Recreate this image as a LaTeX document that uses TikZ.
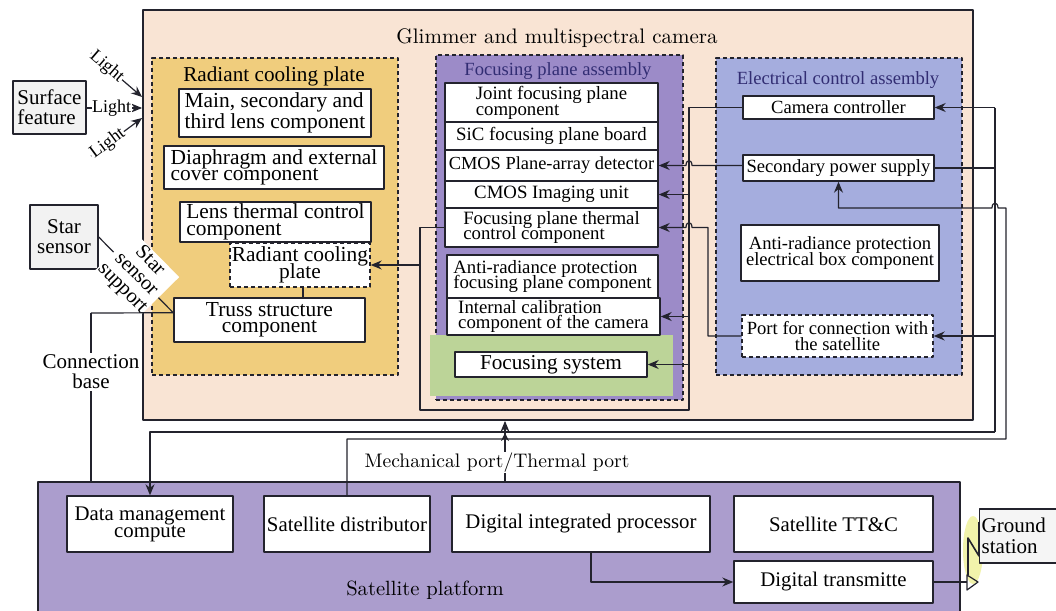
\documentclass[tikz,border=0pt]{standalone}
\usepackage{fontspec}
\newfontfamily\tms{Liberation Serif}
\usetikzlibrary{fit,calc,arrows.meta}
\definecolor{lncol}{RGB}{35,35,45}
\definecolor{campeach}{RGB}{249,228,212}
\definecolor{rcpyellow}{RGB}{240,205,125}
\definecolor{fpapurple}{RGB}{156,139,200}
\definecolor{fsgreen}{RGB}{188,212,152}
\definecolor{ecablue}{RGB}{165,173,222}
\definecolor{platpurple}{RGB}{171,157,205}
\definecolor{ttlcol}{RGB}{50,45,115}
\definecolor{glowcol}{RGB}{238,240,150}
\newcommand\tightls{\lineskiplimit=-30pt\relax}
\newcommand\fsCam{\fontsize{10.5}{12}\selectfont}
\newcommand\fsRadT{\tms\fontsize{10.6}{12}\selectfont}
\newcommand\fsRad{\tms\fontsize{10.7}{8.2}\selectfont\tightls}
\newcommand\fsRadM{\tms\fontsize{10.7}{10.2}\selectfont\tightls}
\newcommand\fsFocT{\tms\fontsize{9.3}{11}\selectfont}
\newcommand\fsFoc{\tms\fontsize{9.4}{7.9}\selectfont\tightls}
\newcommand\fsEle{\tms\fontsize{9.3}{7.7}\selectfont\tightls}
\newcommand\fsBot{\tms\fontsize{10.4}{8.6}\selectfont\tightls}
\newcommand\fsLeft{\tms\fontsize{10.5}{10}\selectfont\tightls}
\newcommand\fsLight{\tms\fontsize{9}{10}\selectfont}
\newcommand\fsLM{\fontsize{9.8}{11}\selectfont}
\newcommand\fsPlat{\fontsize{10.3}{12}\selectfont}
\begin{document}
\begin{tikzpicture}[x=0.5pt,y=-0.5pt, line join=round,
  wire/.style={draw=lncol, line width=0.6pt},
  arr/.style={wire, -{Stealth[length=5.5pt,width=4.5pt]}},
  area/.style={inner sep=0pt, line width=0.7pt, draw=lncol},
  darea/.style={area, dash pattern=on 2.2pt off 1.3pt},
  bx/.style={draw=lncol, line width=0.7pt, fill=white, inner sep=0pt, align=center, text=black},
  dbx/.style={bx, dash pattern=on 2.2pt off 1.3pt},
  boxsz/.style 2 args={minimum width=#1pt, minimum height=#2pt},
  onwire/.style={fill=white, inner sep=1pt, align=center},
]
\useasboundingbox (0,0) rectangle (1056,611);

% ---------- camera ----------
\node[area, line width=0.9pt, fill=campeach, fit={(143,10)(973,420)}] (cam) {};
\node[font=\fsCam] (camt) at (557,38) {Glimmer and multispectral camera};

% radiant cooling plate group
\node[darea, fill=rcpyellow, fit={(152,58)(398,375)}] (rcg) {};
\node[font=\fsRadT] (rcgt) at (274,76) {Radiant cooling plate};
\node[bx, font=\fsRadM, align=left, boxsz={96}{24}] (lens) at (275,113) {Main, secondary and\\third lens component};
\node[bx, font=\fsRad, align=left, boxsz={110}{21.5}] (diaph) at (274,167.5) {Diaphragm and external\\cover component};
\node[bx, font=\fsRad, align=left, boxsz={95.5}{20}] (lth) at (275.5,222) {Lens thermal control\\component};
\node[dbx, font=\fsRad, boxsz={70}{22}] (rcp) at (300,265) {Radiant cooling\\plate};
\node[bx, font=\fsRad, boxsz={95.5}{22}] (truss) at (269.5,320) {Truss structure\\component};
\draw[wire] (rcp.south -| 303,0) -- (truss.north -| 303,0);

% focusing plane assembly group
\node[darea, fill=fpapurple, fit={(436,55)(683,400)}] (fpa) {};
\node[font=\fsFocT, text=ttlcol] (fpat) at (558,71) {Focusing plane assembly};
\node[inner sep=0pt, fill=fsgreen, fit={(430,335)(673,396)}] (fsg) {};
\node[bx, font=\fsFoc, align=left, boxsz={106.5}{19.5}] (joint) at (551.5,102.5) {Joint focusing plane\\component};
\node[bx, font=\fsFoc, boxsz={106.5}{14}] (sic) at (551.5,136) {SiC focusing plane board};
\node[bx, font=\tms\fontsize{9.2}{8}\selectfont, boxsz={106.5}{15.5}] (cmospa) at (551.5,165.5) {CMOS Plane-array detector};
\node[bx, font=\fsFoc, boxsz={106.5}{13.5}] (cmosim) at (551.5,194.5) {CMOS Imaging unit};
\node[bx, font=\fsFoc, align=left, boxsz={106.5}{19.5}] (fth) at (551.5,227.5) {Focusing plane thermal\\control component};
\node[bx, font=\fsFoc, align=left, boxsz={105.5}{21.5}] (arfp) at (552.5,276.5) {Anti-radiance protection\\focusing plane component};
\node[bx, font=\fsFoc, align=left, boxsz={106.5}{18.5}] (ical) at (553.5,316.5) {Internal calibration\\component of the camera};
\node[bx, font=\tms\fontsize{10.6}{10}\selectfont, boxsz={96}{12.5}] (fsys) at (551,364.5) {Focusing system};

% electrical control assembly group
\node[darea, fill=ecablue, fit={(716,58)(962,375)}] (eca) {};
\node[font=\fsFocT, text=ttlcol] (ecat) at (838,80) {Electrical control assembly};
\node[bx, font=\fsEle, boxsz={95.5}{11.5}] (camctl) at (838.5,107.5) {Camera controller};
\node[bx, font=\fsEle, boxsz={95.5}{13}] (sps) at (838.5,168) {Secondary power supply};
\node[bx, font=\fsEle, boxsz={99}{28}] (arel) at (840,253) {Anti-radiance protection\\electrical box component};
\node[dbx, font=\fsEle, boxsz={95.5}{21}] (port) at (837.5,336) {Port for connection with\\the satellite};

% ---------- outside left ----------
\node[bx, fill=black!5, font=\fsLeft, align=left, boxsz={36.5}{26.5}] (surf) at (49.5,107.5) {Surface\\feature};
\node[bx, fill=black!5, font=\fsLeft, boxsz={34}{32}] (star) at (64,237) {Star\\sensor};

\coordinate (l1s) at (91,53);
\coordinate (l1e) at (cam.west |- 0,97);
\coordinate (l2e) at (cam.west |- 0,108);
\coordinate (l3s) at (91,156);
\coordinate (l3e) at (cam.west |- 0,118);
\draw[arr] (l1s) -- node[onwire, sloped, pos=0, anchor=west, font=\fsLight, inner sep=0.3pt] {Light} (l1e);
\draw[arr] (surf.east |- l2e) -- node[onwire, pos=0.45, font=\fsLight, inner sep=0.3pt] {Light} (l2e);
\draw[arr] (l3s) -- node[onwire, sloped, pos=0, anchor=west, font=\fsLight, inner sep=0.3pt] {Light} (l3e);

\coordinate (tj) at ($(truss.north west)!0.34!(truss.south west)$);
\draw[wire] (star.east) -- node[onwire, sloped, font=\tms\fontsize{10.3}{9.6}\selectfont, inner sep=0.5pt] {Star\\sensor\\support} (tj);

% ---------- satellite platform ----------
\node[area, fill=platpurple, fit={(38,482)(960,625)}] (plat) {};
\node[font=\fsPlat] (platt) at (425,590) {Satellite platform};
\node[bx, font=\fsBot, boxsz={83}{28}] (dmc) at (150,524) {Data management\\compute};
\node[bx, font=\fsBot, boxsz={83}{28}] (sdist) at (347,524) {Satellite distributor};
\node[bx, font=\fsBot, boxsz={129}{28}] (dip) at (581,524) {Digital integrated processor};
\node[bx, font=\fsBot, boxsz={99.5}{28}] (ttc) at (833.5,524) {Satellite TT\&C};
\node[bx, font=\fsBot, boxsz={99.5}{21}] (dtx) at (833.5,582) {Digital transmitte};

% ground station
\fill[glowcol, opacity=0.8] (973,550) ellipse [x radius=5pt, y radius=17pt];
\node[bx, fill=black!4, anchor=west, align=left, inner sep=1pt, text width=46pt, minimum height=27pt, font=\tms\fontsize{10.5}{10.3}\selectfont\tightls] (gs) at (979,536) {Ground\\station};
\coordinate (ant) at (967,582);
\draw[wire] (dtx.east) -- (ant);
\draw[wire] (ant |- 0,575) -- (978,582) -- (ant |- 0,590) -- cycle;
\draw[wire, line width=0.8pt] (968,575) -- (968,538) -- (979,556) -- (gs.west |- 0,522);

% ---------- wires ----------
% camera controller bus (x=689)
\coordinate (bA) at (689,410);
\coordinate (bB) at (420,410);
\draw[wire] (camctl.west) -| (bA) -- (bB) |- (fth.west);
\draw[arr] (bB |- rcp.east) -- (rcp.east);
\draw[arr] (cmosim.east -| bA) -- (cmosim.east);
\draw[arr] (ical.east -| bA) -- (ical.east);
\draw[arr] (fsys.east -| bA) -- (fsys.east);
% secondary power supply -> CMOS plane array (bridge over bus)
\draw[arr] (cmospa.east -| sps.west) -- (692,165.5) .. controls (692,159) and (686,159) .. (686,165.5) -- (cmospa.east);
% port -> focusing plane thermal control
\coordinate (pv) at (708,336);
\draw[arr] (port.west) -- (pv) -- (pv |- fth.east) -- (692,227.5) .. controls (692,221) and (686,221) .. (686,227.5) -- (fth.east);

% right bus x=995 to data management
\coordinate (rB) at (995,432);
\draw[arr] (camctl.east -| rB) -- (camctl.east);
\draw[wire] (camctl.east -| rB) -- (rB);
\draw[arr] (rB) -| (dmc.north);
\draw[wire] (sps.east) -- (sps.east -| rB);
\draw[arr] (port.east -| rB) -- (port.east);

% satellite distributor -> secondary power supply (x=1006)
\coordinate (pB) at (1006,439);
\coordinate (pT) at (1006,208);
\draw[arr] (sdist.north) |- (pB) -- (pT) -- (998,208) .. controls (998,201.5) and (992,201.5) .. (992,208) -- (sps.south |- pT) -- (sps.south);

% mechanical / thermal port
\coordinate (mp) at (505,482);
\draw[arr] (mp) -- node[onwire, pos=0.32, xshift=-4pt, font=\fsLM, inner sep=0.5pt] {Mechanical port/Thermal port} (cam.south -| mp);
\draw[wire, -{Stealth[length=4pt,width=4pt]}] (505,446) -- (505,433);

% connection base
\coordinate (cbk) at (91,313);
\draw[wire] (tj) -- (cbk);
\draw[wire] (cbk) -- node[onwire, pos=0.35, font=\tms\fontsize{10.5}{10}\selectfont\tightls] {Connection\\base} (cbk |- plat.north);

% digital integrated processor -> transmitter
\draw[arr] (dip.south -| 591,0) |- (dtx.west);
\end{tikzpicture}
\end{document}
